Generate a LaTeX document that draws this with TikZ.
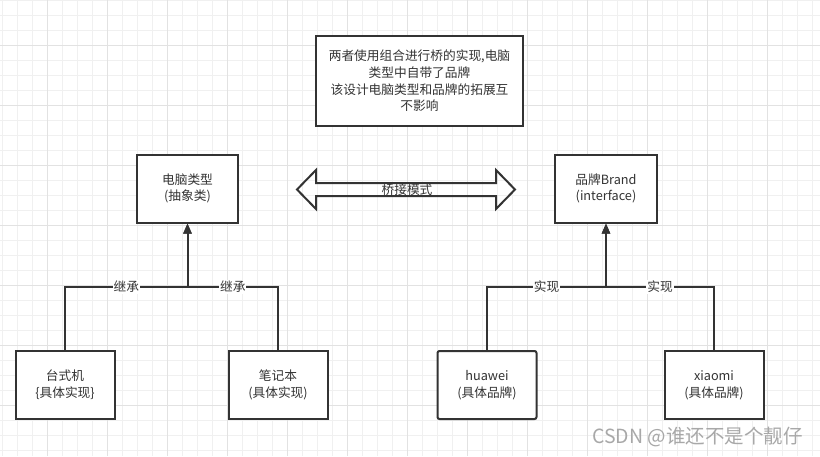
\documentclass[tikz,border=0pt]{standalone}
\usepackage{fontspec}
\setmainfont{Noto Sans CJK SC}
\usetikzlibrary{arrows.meta}
\definecolor{ink}{HTML}{333333}
\definecolor{gridminor}{HTML}{F0F0F0}
\definecolor{gridmajor}{HTML}{E2E2E2}
\definecolor{wm}{HTML}{A8A8A8}
\tikzset{
  box/.style={draw=ink, line width=2pt, fill=white, text=ink, align=center,
    minimum width=101pt, minimum height=68pt, inner sep=2pt,
    font=\fontsize{12.7}{16.7}\selectfont},
  conn/.style={draw=ink, line width=2pt, -{Triangle[length=10pt,width=8pt]}},
  lbl/.style={fill=white, text=ink, inner sep=1pt, font=\fontsize{12.7}{15}\selectfont},
  gminor/.style={draw=gridminor, line width=1pt},
  gmajor/.style={draw=gridmajor, line width=1pt}
}
\begin{document}
\begin{tikzpicture}[x=1pt,y=-1pt]
\useasboundingbox (0,0) rectangle (820,456);
\fill[white] (0,0) rectangle (820,456);
% grid
\foreach \i in {0,...,54} \draw[gminor] ({2.5+15*\i},0) -- ({2.5+15*\i},456);
\foreach \i in {0,...,30} \draw[gminor] (0,{15*\i}) -- (820,{15*\i});
\foreach \i in {0,...,13} \draw[gmajor] ({47.5+60*\i},0) -- ({47.5+60*\i},456);
\foreach \i in {0,...,7} \draw[gmajor] (0,{45+60*\i}) -- (820,{45+60*\i});

% note box
\node[box, minimum width=207pt, minimum height=90pt] (note) at (419.5,81)
  {两者使用组合进行桥的实现,电脑\\类型中自带了品牌\\该设计电脑类型和品牌的拓展互\\不影响};

% abstraction and interface
\node[box] (abs) at (187.5,188.5) {电脑类型\\(抽象类)};
\node[box, minimum width=102pt] (brand) at (606,188.5) {品牌Brand\\(interface)};

% bridge double arrow
\coordinate (bl) at (297,189.5);
\coordinate (br) at (515,189.5);
\draw[ink, line width=2pt, line join=miter]
  (bl) -- (316,170) -- (316,183) -- (496,183) -- (496,170) -- (br)
  -- (496,209) -- (496,196) -- (316,196) -- (316,209) -- cycle;
\node[text=ink, font=\fontsize{12.7}{15}\selectfont] (bridge) at (407,189.5) {桥接模式};

% concrete classes
\node[box, minimum width=99pt] (tai) at (65,385) {台式机\\\{具体实现\}};
\node[box, minimum width=99pt] (bjb) at (278,385) {笔记本\\(具体实现)};
\node[box, minimum width=99pt, rounded corners=2pt] (hw) at (487,385) {huawei\\(具体品牌)};
\node[box, minimum width=99pt] (xm) at (714,385) {xiaomi\\(具体品牌)};

% junctions
\coordinate (jl) at (187.5,287);
\coordinate (jr) at (606,287);

% inheritance
\draw[conn] (tai.north) |- (jl) node[lbl, pos=0.75] (l1) {继承} -- (abs.south);
\draw[conn] (bjb.north) |- (jl) node[lbl, pos=0.75] (l2) {继承} -- (abs.south);
% realization
\draw[conn] (hw.north) |- (jr) node[lbl, pos=0.75] (l3) {实现} -- (brand.south);
\draw[conn] (xm.north) |- (jr) node[lbl, pos=0.75] (l4) {实现} -- (brand.south);

% watermark
\node[anchor=east, text=wm, font=\fontsize{19.5}{22}\selectfont, inner sep=0pt] (wmk) at (803,437) {CSDN @谁还不是个靓仔};
\end{tikzpicture}
\end{document}
